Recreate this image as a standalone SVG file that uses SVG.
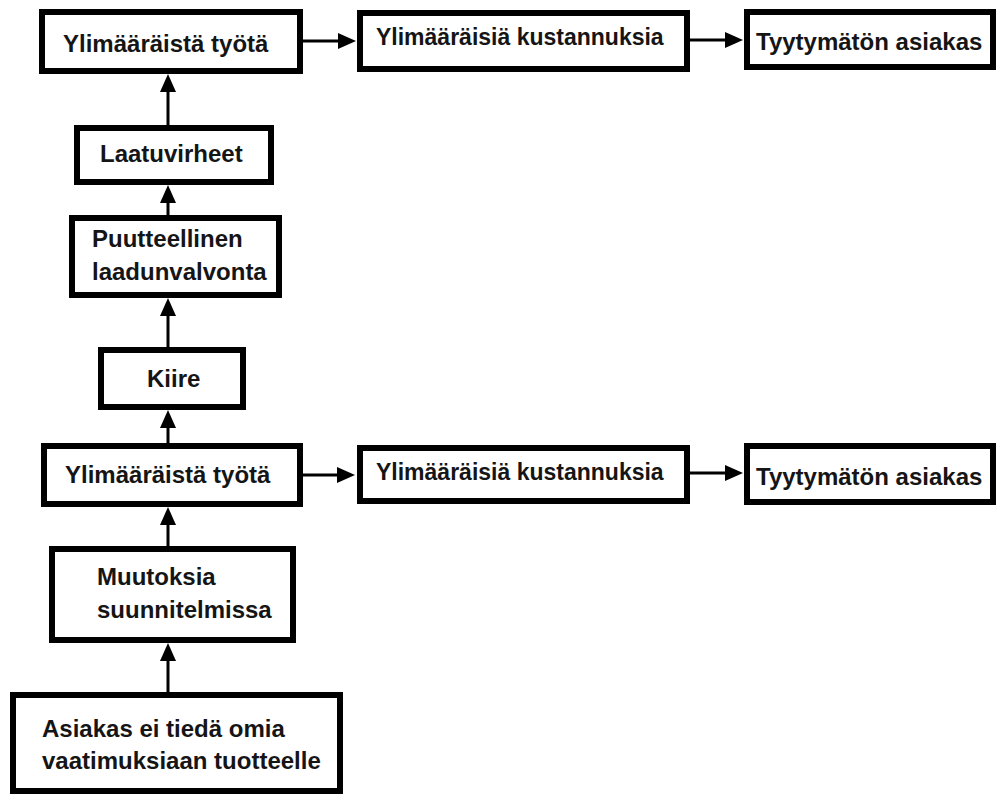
<svg xmlns="http://www.w3.org/2000/svg" width="997" height="794" viewBox="0 0 997 794">
  <defs>
    <style>
      .box { fill: #ffffff; stroke: #000000; stroke-width: 6; }
      .lbl { font-family: "Liberation Sans", Arial, sans-serif; font-weight: bold; font-size: 24px; fill: #151515; }
      .lbl.narrow { font-size: 23px; }
      .edge { stroke: #000000; stroke-width: 3; fill: none; }
    </style>
    <!-- filled triangular head; tip sits 8px beyond the path end -->
    <marker id="head" viewBox="0 0 18 16" refX="10" refY="8" markerWidth="18" markerHeight="16" markerUnits="userSpaceOnUse" orient="auto">
      <path d="M0,0 L18,8 L0,16 z" fill="#000000"/>
    </marker>
  </defs>
  <rect width="997" height="794" fill="#ffffff"/>

  <!-- connectors -->
  <g id="connectors">
    <path class="edge" marker-end="url(#head)" d="M303,41 H348"/>
    <path class="edge" marker-end="url(#head)" d="M690,40 H735"/>
    <path class="edge" marker-end="url(#head)" d="M168,125 V82"/>
    <path class="edge" marker-end="url(#head)" d="M168,215 V193"/>
    <path class="edge" marker-end="url(#head)" d="M168,347 V306"/>
    <path class="edge" marker-end="url(#head)" d="M168,443 V418"/>
    <path class="edge" marker-end="url(#head)" d="M303,475 H347"/>
    <path class="edge" marker-end="url(#head)" d="M690,473 H735"/>
    <path class="edge" marker-end="url(#head)" d="M168,546 V515"/>
    <path class="edge" marker-end="url(#head)" d="M168,692 V651"/>
  </g>

  <!-- upper chain -->
  <g id="tyota-ylempi">
    <rect class="box" x="42" y="12" width="258" height="59"/>
    <text class="lbl" x="63" y="52">Ylimääräistä työtä</text>
  </g>
  <g id="kustannuksia-ylempi">
    <rect class="box" x="360" y="13" width="327" height="56"/>
    <text class="lbl narrow" x="376" y="45">Ylimääräisiä kustannuksia</text>
  </g>
  <g id="asiakas-ylempi">
    <rect class="box" x="747" y="12" width="246" height="55"/>
    <text class="lbl" x="756" y="50">Tyytymätön asiakas</text>
  </g>

  <g id="laatuvirheet">
    <rect class="box" x="77" y="128" width="194" height="54"/>
    <text class="lbl" x="100" y="162">Laatuvirheet</text>
  </g>
  <g id="laadunvalvonta">
    <rect class="box" x="72" y="218" width="207" height="77"/>
    <text class="lbl" x="92" y="247">Puutteellinen</text>
    <text class="lbl" x="92" y="280">laadunvalvonta</text>
  </g>
  <g id="kiire">
    <rect class="box" x="101" y="350" width="142" height="57"/>
    <text class="lbl" x="147" y="387">Kiire</text>
  </g>

  <!-- lower chain -->
  <g id="tyota-alempi">
    <rect class="box" x="44" y="446" width="256" height="58"/>
    <text class="lbl" x="65" y="483">Ylimääräistä työtä</text>
  </g>
  <g id="kustannuksia-alempi">
    <rect class="box" x="360" y="448" width="327" height="53"/>
    <text class="lbl narrow" x="376" y="480">Ylimääräisiä kustannuksia</text>
  </g>
  <g id="asiakas-alempi">
    <rect class="box" x="747" y="446" width="246" height="56"/>
    <text class="lbl" x="756" y="485">Tyytymätön asiakas</text>
  </g>

  <g id="muutoksia">
    <rect class="box" x="52" y="549" width="241" height="91"/>
    <text class="lbl" x="97" y="585">Muutoksia</text>
    <text class="lbl" x="97" y="618">suunnitelmissa</text>
  </g>
  <g id="vaatimukset">
    <rect class="box" x="13" y="695" width="327" height="96"/>
    <text class="lbl" x="42" y="737">Asiakas ei tiedä omia</text>
    <text class="lbl" x="42" y="769">vaatimuksiaan tuotteelle</text>
  </g>
</svg>
